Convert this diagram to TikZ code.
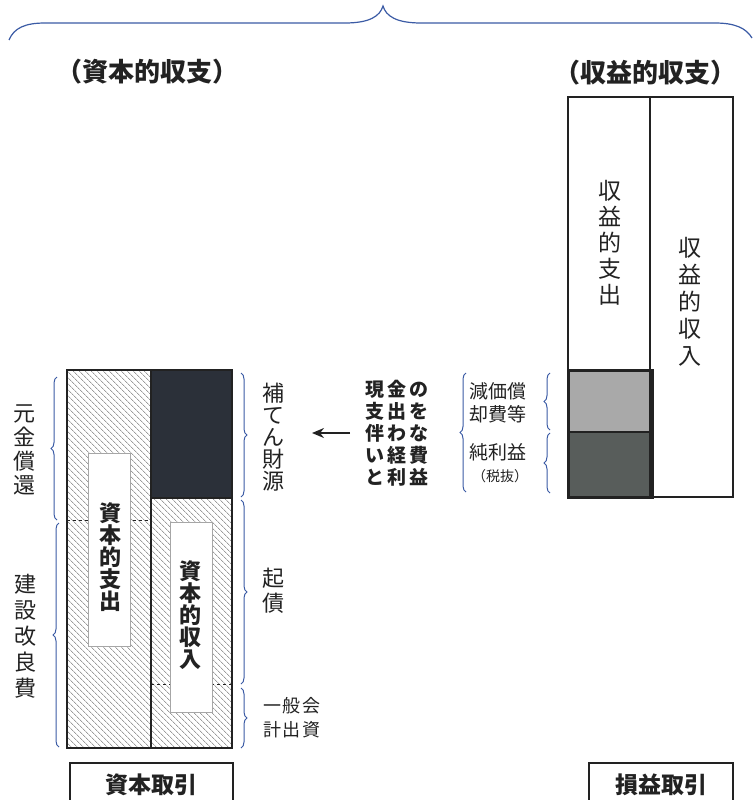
\documentclass[tikz,border=0pt]{standalone}
\usepackage{fontspec}
\setmainfont{Noto Sans CJK JP}
\usetikzlibrary{patterns.meta,decorations.pathreplacing,arrows.meta}
\definecolor{bl}{HTML}{3B5BA5}
\definecolor{navy}{HTML}{2B3039}
\definecolor{gA}{HTML}{A9A9A9}
\definecolor{gB}{HTML}{585D5B}
\definecolor{ink}{HTML}{222222}
\tikzset{
  hatch/.style={pattern={Lines[angle=-45,distance=4pt,line width=0.55pt]},pattern color=black!60},
  brc/.style={draw=bl,line width=1pt,decorate,decoration={brace,amplitude=6pt}},
  whitebox/.style={fill=white,draw=black!35,line width=1pt},
  vlab/.style={inner sep=0pt,align=center,text=ink},
  frame/.style={draw=ink,line width=2.4pt},
}
\begin{document}
\begin{tikzpicture}[x=1pt,y=-1pt]
\useasboundingbox (0,0) rectangle (754,800);
% top brace
\draw[bl,line width=1.2pt] (9,40) .. controls (14,28) and (25,23) .. (45,23) -- (345,23)
  .. controls (370,23) and (380,16) .. (383,6) .. controls (386,16) and (396,23) .. (421,23)
  -- (715,23) .. controls (735,23) and (746,28) .. (752,38);
\node[vlab,font=\fontsize{26}{26}\selectfont\bfseries] (tL) at (147,72) {（資本的収支）};
\node[vlab,font=\fontsize{26}{26}\selectfont\bfseries] (tR) at (645,73) {（収益的収支）};

% ===== left diagram (capital) =====
\fill[hatch] (67,370) rectangle (151,748);
\fill[hatch] (151,498) rectangle (232,748);
\fill[navy] (151,370) rectangle (232,498);
\draw[ink,line width=1pt,dashed] (67,520) -- (151,520);
\draw[ink,line width=1pt,dashed] (151,684) -- (232,684);
\draw[whitebox] (88,453) rectangle (130,646);
\draw[whitebox] (170,522) rectangle (212,712);
\draw[ink,line width=2pt] (151,370) rectangle (232,498);
\draw[ink,line width=2pt] (151,370) -- (151,748);
\draw[frame] (67,370) rectangle (232,748);
\node[vlab,font=\fontsize{22}{22}\selectfont\bfseries] (cexp) at (110,557) {資\\本\\的\\支\\出};
\node[vlab,font=\fontsize{22}{22}\selectfont\bfseries] (cinc) at (190,615) {資\\本\\的\\収\\入};

% left braces and labels
\draw[brc] (57,520) -- (57,377);
\draw[brc] (59,747) -- (59,523);
\node[vlab,font=\fontsize{22}{24}\selectfont] (gk) at (24,450) {元\\金\\償\\還};
\node[vlab,font=\fontsize{22}{26}\selectfont] (kk) at (25,636) {建\\設\\改\\良\\費};

% right braces and labels
\draw[brc] (241,373) -- (241,497);
\draw[brc] (241,500) -- (241,684);
\draw[brc] (241,688) -- (241,748);
\node[vlab,font=\fontsize{22}{22}\selectfont] (hz) at (273,437) {補\\て\\ん\\財\\源};
\node[vlab,font=\fontsize{22}{25}\selectfont] (ks) at (273,591) {起\\債};
\node[vlab,font=\fontsize{18}{24}\selectfont] (ip) at (292,718) {一\hspace{1.5pt}般\hspace{1.5pt}会\\計\hspace{1.5pt}出\hspace{1.5pt}資};

% bottom boxes
\node[draw=ink,line width=2pt,minimum width=163pt,minimum height=44pt,inner sep=0pt,
      font=\fontsize{23}{23}\selectfont\bfseries,text=ink] (sb) at (151.5,785) {資本取引};
\node[draw=ink,line width=2pt,minimum width=144pt,minimum height=44pt,inner sep=0pt,
      font=\fontsize{23}{23}\selectfont\bfseries,text=ink] (se) at (661,785) {損益取引};

% ===== middle text and arrow =====
\node[vlab,font=\fontsize{19}{22}\selectfont\bfseries] (mid) at (397,433)
  {現\hspace{3.5pt}金\hspace{3.5pt}の\\支\hspace{3.5pt}出\hspace{3.5pt}を\\伴\hspace{3.5pt}わ\hspace{3.5pt}な\\い\hspace{3.5pt}経\hspace{3.5pt}費\\と\hspace{3.5pt}利\hspace{3.5pt}益};
\coordinate (arS) at (350,433);
\coordinate (arE) at (312,433);
\draw[ink,line width=1.6pt,-{Stealth[length=12pt,width=10pt]}] (arS) -- (arE);
\draw[brc] (466,492) -- (466,373);
\node[vlab,font=\fontsize{19}{23}\selectfont] (gen) at (498,403) {減価償\\却費等};
\node[vlab,font=\fontsize{19}{19}\selectfont] (jr) at (498,452) {純利益};
\node[vlab,font=\fontsize{14}{14}\selectfont] (zb) at (500,476) {（税抜）};
\draw[brc] (550,430) -- (550,373);
\draw[brc] (550,493) -- (550,433);

% ===== right diagram (revenue) =====
\fill[gA] (568,370) rectangle (652,432);
\fill[gB] (568,432) rectangle (652,497);
\draw[ink,line width=2pt] (650,97) -- (650,497);
\draw[frame] (568,97) rectangle (733,497);
\draw[ink,line width=3pt] (568,370) rectangle (652,497);
\draw[ink,line width=2.5pt] (568,432) -- (652,432);
\node[vlab,font=\fontsize{23}{26}\selectfont] (rexp) at (610,243) {収\\益\\的\\支\\出};
\node[vlab,font=\fontsize{23}{27}\selectfont] (rinc) at (690,302) {収\\益\\的\\収\\入};
\end{tikzpicture}
\end{document}
